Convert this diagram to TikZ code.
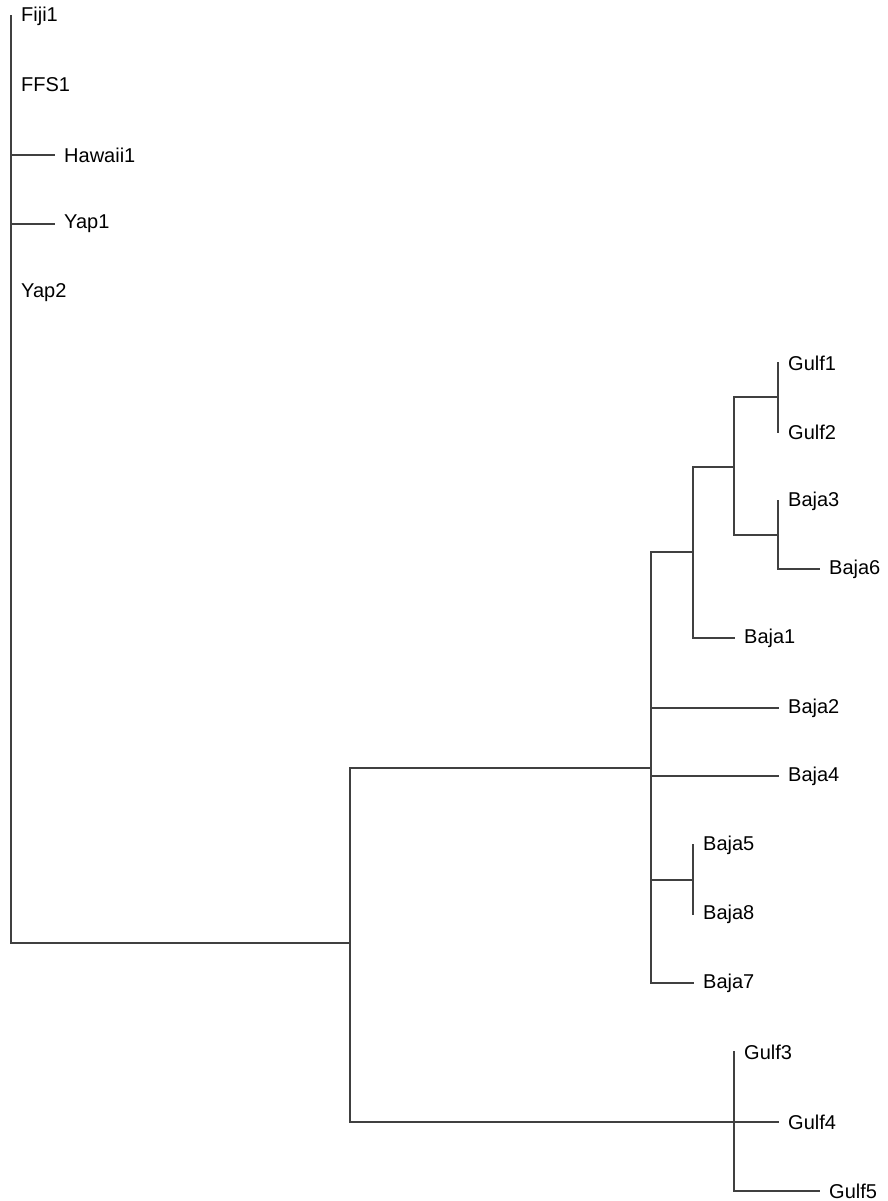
\documentclass[tikz,border=0pt]{standalone}
\usepackage{fontspec}
\setmainfont{Liberation Sans}
\definecolor{branch}{HTML}{404040}
\begin{document}
\begin{tikzpicture}[x=1pt,y=-1pt,
  leaf/.style={anchor=west,inner xsep=10pt,inner ysep=0pt,font=\fontsize{20}{22}\selectfont},
  br/.style={draw=branch,line width=1.1pt,line cap=rect}]
\useasboundingbox (0,0) rectangle (888,1201);
% internal nodes
\coordinate (R1) at (11,16);
\coordinate (R2) at (11,943);
\coordinate (A1) at (350,768);
\coordinate (A2) at (350,1122);
\coordinate (B1) at (651,552);
\coordinate (B2) at (651,983);
\coordinate (C1) at (693,467);
\coordinate (C2) at (693,638);
\coordinate (E1) at (734,397);
\coordinate (E2) at (734,535);
\coordinate (F1) at (778,363);
\coordinate (F2) at (778,432);
\coordinate (H1) at (778,501);
\coordinate (H2) at (778,569);
\coordinate (D1) at (693,845);
\coordinate (D2) at (693,914);
\coordinate (Dm) at (693,880);
\coordinate (G1) at (734,1052);
\coordinate (G2) at (734,1191);
% leaves
\node[leaf] (fiji1) at (11,16) {Fiji1};
\node[leaf] (ffs1) at (11,85) {FFS1};
\node[leaf] (hawaii1) at (54,155) {Hawaii1};
\node[leaf] (yap1) at (54,224) {Yap1};
\node[leaf] (yap2) at (11,293) {Yap2};
\node[leaf] (gulf1) at (778,363) {Gulf1};
\node[leaf] (gulf2) at (778,432) {Gulf2};
\node[leaf] (baja3) at (778,501) {Baja3};
\node[leaf] (baja6) at (819,569) {Baja6};
\node[leaf] (baja1) at (734,638) {Baja1};
\node[leaf] (baja2) at (778,708) {Baja2};
\node[leaf] (baja4) at (778,776) {Baja4};
\node[leaf] (baja5) at (693,845) {Baja5};
\node[leaf] (baja8) at (693,914) {Baja8};
\node[leaf] (baja7) at (693,983) {Baja7};
\node[leaf] (gulf3) at (734,1052) {Gulf3};
\node[leaf] (gulf4) at (778,1122) {Gulf4};
\node[leaf] (gulf5) at (819,1191) {Gulf5};
% root
\draw[br] (R1) -- (R2) -- (R2 -| A1);
\draw[br] (R1 |- hawaii1.west) -- (hawaii1.west);
\draw[br] (R1 |- yap1.west) -- (yap1.west);
% clade A
\draw[br] (A1) -- (A2);
\draw[br] (A1) -- (A1 -| B1);
\draw[br] (A2) -- (gulf4.west);
% clade B
\draw[br] (B1) -- (B2) -- (baja7.west);
\draw[br] (B1) -- (B1 -| C1);
\draw[br] (B1 |- baja2.west) -- (baja2.west);
\draw[br] (B1 |- baja4.west) -- (baja4.west);
\draw[br] (B1 |- Dm) -- (Dm);
% clade C
\draw[br] (C1) -- (C2) -- (baja1.west);
\draw[br] (C1) -- (C1 -| E1);
% clade E
\draw[br] (E1) -- (E2);
\draw[br] (E1) -- (E1 -| F1);
\draw[br] (E2) -- (E2 -| H1);
% clade F, H
\draw[br] (F1) -- (F2);
\draw[br] (H1) -- (H2) -- (baja6.west);
% clade D
\draw[br] (D1) -- (D2);
% clade G
\draw[br] (G1) -- (G2) -- (gulf5.west);
\end{tikzpicture}
\end{document}
